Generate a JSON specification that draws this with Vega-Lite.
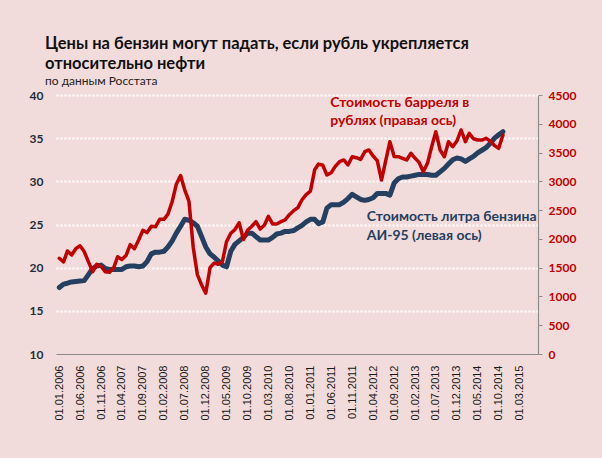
{
  "$schema": "https://vega.github.io/schema/vega-lite/v6.json",
  "width": 482,
  "height": 259,
  "autosize": {"type": "none"},
  "padding": {"left": 56, "top": 95, "right": 64, "bottom": 104},
  "background": "#F2DCDB",
  "title": {
    "text": ["Цены на бензин могут падать, если рубль укрепляется", "относительно нефти"],
    "subtitle": "по данным Росстата",
    "anchor": "start",
    "frame": "group",
    "dx": -11,
    "font": "Lato",
    "fontSize": 16.5,
    "fontWeight": "bold",
    "color": "#111111",
    "lineHeight": 20,
    "subtitleFont": "Lato",
    "subtitleFontSize": 12,
    "subtitleColor": "#222222",
    "subtitlePadding": 4,
    "offset": 2
  },
  "config": {"view": {"stroke": null}, "axisX": {"labelOverlap": false, "tickCount": 40}},
  "datasets": {
    "series": [
      {"d": "2006-01-01", "g": 17.7, "o": 1663},
      {"d": "2006-02-01", "g": 18.1, "o": 1600},
      {"d": "2006-03-01", "g": 18.2, "o": 1790},
      {"d": "2006-04-01", "g": 18.35, "o": 1720},
      {"d": "2006-05-01", "g": 18.4, "o": 1830},
      {"d": "2006-06-01", "g": 18.45, "o": 1880},
      {"d": "2006-07-01", "g": 18.5, "o": 1780},
      {"d": "2006-08-01", "g": 19.2, "o": 1600},
      {"d": "2006-09-01", "g": 19.9, "o": 1430},
      {"d": "2006-10-01", "g": 20.2, "o": 1560},
      {"d": "2006-11-01", "g": 20.3, "o": 1520},
      {"d": "2006-12-01", "g": 19.9, "o": 1430},
      {"d": "2007-01-01", "g": 19.8, "o": 1420},
      {"d": "2007-02-01", "g": 19.8, "o": 1500},
      {"d": "2007-03-01", "g": 19.8, "o": 1690},
      {"d": "2007-04-01", "g": 19.8, "o": 1640},
      {"d": "2007-05-01", "g": 20.1, "o": 1710},
      {"d": "2007-06-01", "g": 20.2, "o": 1900},
      {"d": "2007-07-01", "g": 20.2, "o": 1830},
      {"d": "2007-08-01", "g": 20.1, "o": 1980},
      {"d": "2007-09-01", "g": 20.2, "o": 2150},
      {"d": "2007-10-01", "g": 20.7, "o": 2110},
      {"d": "2007-11-01", "g": 21.6, "o": 2220},
      {"d": "2007-12-01", "g": 21.8, "o": 2210},
      {"d": "2008-01-01", "g": 21.8, "o": 2340},
      {"d": "2008-02-01", "g": 21.9, "o": 2340},
      {"d": "2008-03-01", "g": 22.4, "o": 2430},
      {"d": "2008-04-01", "g": 23.1, "o": 2650},
      {"d": "2008-05-01", "g": 24.0, "o": 2950},
      {"d": "2008-06-01", "g": 24.8, "o": 3100},
      {"d": "2008-07-01", "g": 25.6, "o": 2850},
      {"d": "2008-08-01", "g": 25.5, "o": 2650},
      {"d": "2008-09-01", "g": 25.2, "o": 1850},
      {"d": "2008-10-01", "g": 24.8, "o": 1380},
      {"d": "2008-11-01", "g": 23.6, "o": 1200},
      {"d": "2008-12-01", "g": 22.4, "o": 1055},
      {"d": "2009-01-01", "g": 21.6, "o": 1500},
      {"d": "2009-02-01", "g": 21.2, "o": 1580},
      {"d": "2009-03-01", "g": 20.8, "o": 1560},
      {"d": "2009-04-01", "g": 20.3, "o": 1604},
      {"d": "2009-05-01", "g": 20.1, "o": 1951},
      {"d": "2009-06-01", "g": 21.9, "o": 2097},
      {"d": "2009-07-01", "g": 22.7, "o": 2160},
      {"d": "2009-08-01", "g": 23.1, "o": 2281},
      {"d": "2009-09-01", "g": 23.5, "o": 1990},
      {"d": "2009-10-01", "g": 24.0, "o": 2150},
      {"d": "2009-11-01", "g": 24.0, "o": 2220},
      {"d": "2009-12-01", "g": 23.6, "o": 2300},
      {"d": "2010-01-01", "g": 23.2, "o": 2170},
      {"d": "2010-02-01", "g": 23.2, "o": 2241},
      {"d": "2010-03-01", "g": 23.2, "o": 2390},
      {"d": "2010-04-01", "g": 23.5, "o": 2260},
      {"d": "2010-05-01", "g": 23.9, "o": 2260},
      {"d": "2010-06-01", "g": 24.0, "o": 2300},
      {"d": "2010-07-01", "g": 24.2, "o": 2330},
      {"d": "2010-08-01", "g": 24.2, "o": 2420},
      {"d": "2010-09-01", "g": 24.3, "o": 2490},
      {"d": "2010-10-01", "g": 24.6, "o": 2540},
      {"d": "2010-11-01", "g": 24.9, "o": 2680},
      {"d": "2010-12-01", "g": 25.3, "o": 2770},
      {"d": "2011-01-01", "g": 25.6, "o": 2830},
      {"d": "2011-02-01", "g": 25.6, "o": 3200},
      {"d": "2011-03-01", "g": 25.1, "o": 3300},
      {"d": "2011-04-01", "g": 25.3, "o": 3280},
      {"d": "2011-05-01", "g": 26.9, "o": 3110},
      {"d": "2011-06-01", "g": 27.3, "o": 3150},
      {"d": "2011-07-01", "g": 27.3, "o": 3260},
      {"d": "2011-08-01", "g": 27.3, "o": 3341},
      {"d": "2011-09-01", "g": 27.6, "o": 3371},
      {"d": "2011-10-01", "g": 28.0, "o": 3284},
      {"d": "2011-11-01", "g": 28.5, "o": 3428},
      {"d": "2011-12-01", "g": 28.2, "o": 3410},
      {"d": "2012-01-01", "g": 27.9, "o": 3380},
      {"d": "2012-02-01", "g": 27.8, "o": 3515},
      {"d": "2012-03-01", "g": 27.9, "o": 3545},
      {"d": "2012-04-01", "g": 28.1, "o": 3440},
      {"d": "2012-05-01", "g": 28.6, "o": 3360},
      {"d": "2012-06-01", "g": 28.6, "o": 3023},
      {"d": "2012-07-01", "g": 28.6, "o": 3350},
      {"d": "2012-08-01", "g": 28.4, "o": 3689},
      {"d": "2012-09-01", "g": 29.8, "o": 3430},
      {"d": "2012-10-01", "g": 30.3, "o": 3428},
      {"d": "2012-11-01", "g": 30.5, "o": 3400},
      {"d": "2012-12-01", "g": 30.5, "o": 3371},
      {"d": "2013-01-01", "g": 30.6, "o": 3487},
      {"d": "2013-02-01", "g": 30.7, "o": 3400},
      {"d": "2013-03-01", "g": 30.8, "o": 3330},
      {"d": "2013-04-01", "g": 30.8, "o": 3168},
      {"d": "2013-05-01", "g": 30.8, "o": 3313},
      {"d": "2013-06-01", "g": 30.7, "o": 3602},
      {"d": "2013-07-01", "g": 30.7, "o": 3863},
      {"d": "2013-08-01", "g": 31.1, "o": 3545},
      {"d": "2013-09-01", "g": 31.5, "o": 3428},
      {"d": "2013-10-01", "g": 32.0, "o": 3689},
      {"d": "2013-11-01", "g": 32.5, "o": 3602},
      {"d": "2013-12-01", "g": 32.7, "o": 3700},
      {"d": "2014-01-01", "g": 32.6, "o": 3892},
      {"d": "2014-02-01", "g": 32.3, "o": 3689},
      {"d": "2014-03-01", "g": 32.6, "o": 3834},
      {"d": "2014-04-01", "g": 32.9, "o": 3740},
      {"d": "2014-05-01", "g": 33.3, "o": 3718},
      {"d": "2014-06-01", "g": 33.6, "o": 3718},
      {"d": "2014-07-01", "g": 33.9, "o": 3747},
      {"d": "2014-08-01", "g": 34.4, "o": 3700},
      {"d": "2014-09-01", "g": 35.0, "o": 3620},
      {"d": "2014-10-01", "g": 35.4, "o": 3574},
      {"d": "2014-11-01", "g": 35.75, "o": 3805}
    ],
    "notes": [
      {"d": "2011-05-25", "v": 39.07, "t": "Стоимость барреля в", "s": "oil"},
      {"d": "2011-05-25", "v": 36.95, "t": "рублях (правая ось)", "s": "oil"},
      {"d": "2012-02-15", "v": 25.86, "t": "Стоимость литра бензина", "s": "gas"},
      {"d": "2012-02-15", "v": 23.7, "t": "АИ-95 (левая ось)", "s": "gas"}
    ]
  },
  "layer": [
    {
      "data": {"name": "series"},
      "mark": {"type": "line", "color": "#243F60", "strokeWidth": 5, "strokeJoin": "round", "strokeCap": "round"},
      "encoding": {
        "x": {
          "field": "d",
          "type": "temporal",
          "scale": {
            "type": "utc",
            "domain": [
              {"year": 2005, "month": 12, "date": 8, "utc": true},
              {"year": 2015, "month": 7, "date": 14, "utc": true}
            ]
          },
          "axis": {
            "values": [
              {"year": 2006, "month": 1, "date": 1, "utc": true},
              {"year": 2006, "month": 6, "date": 1, "utc": true},
              {"year": 2006, "month": 11, "date": 1, "utc": true},
              {"year": 2007, "month": 4, "date": 1, "utc": true},
              {"year": 2007, "month": 9, "date": 1, "utc": true},
              {"year": 2008, "month": 2, "date": 1, "utc": true},
              {"year": 2008, "month": 7, "date": 1, "utc": true},
              {"year": 2008, "month": 12, "date": 1, "utc": true},
              {"year": 2009, "month": 5, "date": 1, "utc": true},
              {"year": 2009, "month": 10, "date": 1, "utc": true},
              {"year": 2010, "month": 3, "date": 1, "utc": true},
              {"year": 2010, "month": 8, "date": 1, "utc": true},
              {"year": 2011, "month": 1, "date": 1, "utc": true},
              {"year": 2011, "month": 6, "date": 1, "utc": true},
              {"year": 2011, "month": 11, "date": 1, "utc": true},
              {"year": 2012, "month": 4, "date": 1, "utc": true},
              {"year": 2012, "month": 9, "date": 1, "utc": true},
              {"year": 2013, "month": 2, "date": 1, "utc": true},
              {"year": 2013, "month": 7, "date": 1, "utc": true},
              {"year": 2013, "month": 12, "date": 1, "utc": true},
              {"year": 2014, "month": 5, "date": 1, "utc": true},
              {"year": 2014, "month": 10, "date": 1, "utc": true},
              {"year": 2015, "month": 3, "date": 1, "utc": true}
            ],
            "tickCount": 40,
            "format": "%d.%m.%Y",
            "labelAngle": -90,
            "labelAlign": "right",
            "labelBaseline": "middle",
            "labelFont": "Liberation Sans",
            "labelFontSize": 11,
            "labelColor": "#1a1a1a",
            "ticks": false,
            "tickSize": 0,
            "labelPadding": 11,
            "domainColor": "#8C8C8C",
            "domainWidth": 1.2,
            "grid": false,
            "title": null,
            "labelOverlap": false,
            "labelFlush": false
          }
        },
        "y": {
          "field": "g",
          "type": "quantitative",
          "scale": {"domain": [10, 40], "nice": false, "zero": false},
          "axis": {
            "orient": "left",
            "values": [10, 15, 20, 25, 30, 35, 40],
            "domain": false,
            "ticks": false,
            "tickSize": 0,
            "labelPadding": 13,
            "labelFont": "Lato",
            "labelFontSize": 12,
            "labelFontWeight": "bold",
            "labelColor": "#1F2D3D",
            "grid": true,
            "gridColor": {"condition": {"test": "datum.value <= 10", "value": "transparent"}, "value": "#FFFFFF"},
            "gridDash": [2, 2],
            "gridWidth": 2,
            "title": null
          }
        }
      }
    },
    {
      "data": {"name": "series"},
      "mark": {"type": "line", "color": "#C00000", "strokeWidth": 3.5, "strokeJoin": "round", "strokeCap": "round"},
      "encoding": {
        "x": {"field": "d", "type": "temporal"},
        "y": {
          "field": "o",
          "type": "quantitative",
          "scale": {"domain": [0, 4500], "nice": false},
          "axis": {
            "orient": "right",
            "values": [0, 500, 1000, 1500, 2000, 2500, 3000, 3500, 4000, 4500],
            "format": "d",
            "domain": true,
            "domainColor": "#8C8C8C",
            "domainWidth": 1.2,
            "ticks": true,
            "tickColor": "#8C8C8C",
            "tickSize": 4,
            "labelPadding": 6,
            "labelFont": "Lato",
            "labelFontSize": 12,
            "labelFontWeight": "bold",
            "labelColor": "#C00000",
            "grid": false,
            "title": null
          }
        }
      }
    },
    {
      "data": {"name": "notes"},
      "mark": {"type": "text", "align": "left", "baseline": "middle", "font": "Lato", "fontSize": 14, "fontWeight": "bold"},
      "encoding": {
        "x": {"field": "d", "type": "temporal"},
        "y": {"field": "v", "type": "quantitative", "scale": {"domain": [10, 40], "nice": false, "zero": false}, "axis": null},
        "text": {"field": "t"},
        "color": {"field": "s", "type": "nominal", "scale": {"domain": ["oil", "gas"], "range": ["#C00000", "#243F60"]}, "legend": null}
      }
    }
  ],
  "resolve": {"scale": {"y": "independent"}}
}
